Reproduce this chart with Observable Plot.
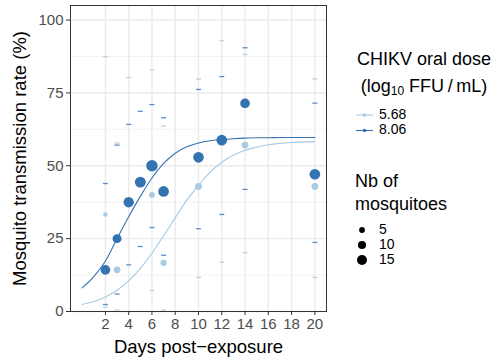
<!DOCTYPE html>
<html>
<head>
<meta charset="utf-8">
<script src="https://cdn.jsdelivr.net/npm/d3@7"></script>
<script src="https://cdn.jsdelivr.net/npm/@observablehq/plot@0.6"></script>
<style>
  html, body { margin: 0; padding: 0; background: #fff; }
  #wrap { position: relative; width: 500px; height: 361px; font-family: "Liberation Sans", Arial, Helvetica, sans-serif; }
  #chart { position: absolute; left: 0; top: 0; }
  #legend { position: absolute; left: 335px; top: 0; }
</style>
</head>
<body>
<div id="wrap"><div id="chart"></div><svg id="legend" width="165" height="361"></svg></div>
<script>
// ---- data ----
const doses = ["5.68", "8.06"];
const doseColors = ["#a6cbe3", "#3572b1"];

// high dose 8.06
const days806 = [2, 3, 4, 5, 6, 7, 10, 12, 14, 20];
const rate806 = [14.3, 25.0, 37.5, 44.4, 50.0, 41.2, 52.9, 58.8, 71.4, 47.1];
const n806    = [14, 12, 16, 18, 20, 17, 17, 17, 14, 17];
const lo806   = [2.4, 6.0, 16.0, 22.3, 28.8, 19.3, 28.4, 33.3, 41.9, 23.7];
const hi806   = [43.9, 57.1, 64.2, 68.7, 71.0, 66.5, 76.2, 80.6, 90.5, 71.5];

// low dose 5.68
const days568 = [2, 3, 4, 6, 7, 10, 12, 14, 20];
const rate568 = [33.3, 14.3, null, 40.0, 16.7, 42.9, 58.8, 57.1, 42.9];
const n568    = [3, 7, 2, 5, 6, 7, 5, 7, 7];
const lo568   = [1.5, 0.5, 0, 7.2, 0.5, 11.7, 16.9, 20.2, 11.7];
const hi568   = [87.4, 57.8, 80.3, 83.0, 63.6, 79.8, 92.9, 88.2, 79.8];

// fitted curves (read at each day)
const fitDays = [0, 1, 2, 3, 4, 5, 6, 7, 8, 9, 10, 11, 12, 13, 14, 15, 16, 17, 18, 19, 20];
const fit806  = [8.1, 12.0, 17.3, 25.0, 32.5, 39.5, 45.8, 50.8, 54.3, 56.5, 57.8, 58.6, 59.0, 59.3, 59.5, 59.6, 59.6, 59.7, 59.7, 59.7, 59.7];
const fit568  = [2.4, 3.4, 5.0, 7.3, 10.5, 14.8, 20.0, 26.0, 32.2, 38.2, 43.3, 47.8, 51.2, 53.6, 55.3, 56.4, 57.2, 57.7, 58.0, 58.2, 58.3];

const xTicks = [2, 4, 6, 8, 10, 12, 14, 16, 18, 20];
const yTicks = [0, 25, 50, 75, 100];
const yMinor = [12.5, 37.5, 62.5, 87.5];
const sizeBreaks = [5, 10, 15];

// ---- tables ----
const pts = [
  ...days568.map((d, i) => ({day: d, rate: rate568[i], n: n568[i], lo: lo568[i], hi: hi568[i], dose: doses[0]})),
  ...days806.map((d, i) => ({day: d, rate: rate806[i], n: n806[i], lo: lo806[i], hi: hi806[i], dose: doses[1]}))
];
const fits = [
  ...fitDays.map((d, i) => ({day: d, v: fit568[i], dose: doses[0]})),
  ...fitDays.map((d, i) => ({day: d, v: fit806[i], dose: doses[1]}))
];

const dash = { draw(ctx) { ctx.moveTo(-2.5, 0); ctx.lineTo(2.5, 0); } };
const FONT = '"Liberation Sans", Arial, Helvetica, sans-serif';

const chart = Plot.plot({
  width: 335, height: 361,
  marginLeft: 70, marginRight: 9, marginTop: 5, marginBottom: 50,
  style: { fontFamily: FONT, background: "#fff" },
  x: { domain: [-1, 21] },
  y: { domain: [0, 105] },
  color: { domain: doses, range: doseColors },
  r: { type: "sqrt", domain: [0, 15], range: [0, 5] },
  marks: [
    Plot.gridY(yMinor, { stroke: "#ececec", strokeOpacity: 1, strokeWidth: 0.7 }),
    Plot.gridY(yTicks, { stroke: "#ebebeb", strokeOpacity: 1, strokeWidth: 1.4 }),
    Plot.gridX(xTicks, { stroke: "#ebebeb", strokeOpacity: 1, strokeWidth: 1.4 }),
    Plot.axisX(xTicks, { tickSize: 4, tickPadding: 3, fontSize: 15, color: "#4d4d4d", stroke: "#333", label: null }),
    Plot.axisY(yTicks, { tickSize: 4, tickPadding: 3, fontSize: 15, color: "#4d4d4d", stroke: "#333", label: null }),
    Plot.dot(pts, { x: "day", y: "lo", symbol: dash, stroke: "dose", strokeWidth: 1.3, strokeOpacity: 0.8, r: 3 }),
    Plot.dot(pts, { x: "day", y: "hi", symbol: dash, stroke: "dose", strokeWidth: 1.3, strokeOpacity: 0.8, r: 3 }),
    Plot.line(fits, { x: "day", y: "v", z: "dose", stroke: "dose", strokeWidth: 1.1, curve: "monotone-x" }),
    Plot.dot(pts, { x: "day", y: "rate", r: "n", fill: "dose", stroke: "none", sort: null }),
    Plot.frame({ stroke: "#333", strokeWidth: 1 }),
    Plot.text(["Days post\u2212exposure"], { frameAnchor: "bottom", dy: 36, fontSize: 18.5, fill: "#000", lineAnchor: "middle" }),
    Plot.text(["Mosquito transmission rate (%)"], { frameAnchor: "left", dx: -50, rotate: -90, textAnchor: "middle", fontSize: 18.5, fill: "#000", lineAnchor: "middle" })
  ]
});
document.getElementById("chart").appendChild(chart);

// ---- legend ----
const lg = d3.select("#legend").style("font-family", FONT);
lg.append("text").attr("x", 89).attr("y", 60).attr("text-anchor", "middle").attr("dominant-baseline", "middle").attr("font-size", 18).text("CHIKV oral dose");
const t2 = lg.append("text").attr("x", 89).attr("y", 87).attr("text-anchor", "middle").attr("dominant-baseline", "middle").attr("font-size", 18);
t2.append("tspan").text("(log");
t2.append("tspan").attr("font-size", 12).attr("dy", 5).text("10");
t2.append("tspan").attr("dy", -5).text(" FFU\u2009/\u2009mL)");
doses.forEach((d, i) => {
  const y = 115 + i * 15.5;
  lg.append("line").attr("x1", 21).attr("x2", 38).attr("y1", y).attr("y2", y).attr("stroke", doseColors[i]).attr("stroke-width", 1.1);
  lg.append("circle").attr("cx", 29.5).attr("cy", y).attr("r", 1.8).attr("fill", doseColors[i]);
  lg.append("text").attr("x", 44).attr("y", y).attr("dominant-baseline", "middle").attr("font-size", 14).text(d);
});
lg.append("text").attr("x", 20).attr("y", 182).attr("dominant-baseline", "middle").attr("font-size", 18).text("Nb of");
lg.append("text").attr("x", 20).attr("y", 205).attr("dominant-baseline", "middle").attr("font-size", 18).text("mosquitoes");
const rs = d3.scaleSqrt().domain([0, 15]).range([0, 5]);
sizeBreaks.forEach((s, i) => {
  const y = 230 + i * 15;
  lg.append("circle").attr("cx", 27).attr("cy", y).attr("r", rs(s)).attr("fill", "#000");
  lg.append("text").attr("x", 44).attr("y", y).attr("dominant-baseline", "middle").attr("font-size", 14).text(s);
});
</script>
</body>
</html>
